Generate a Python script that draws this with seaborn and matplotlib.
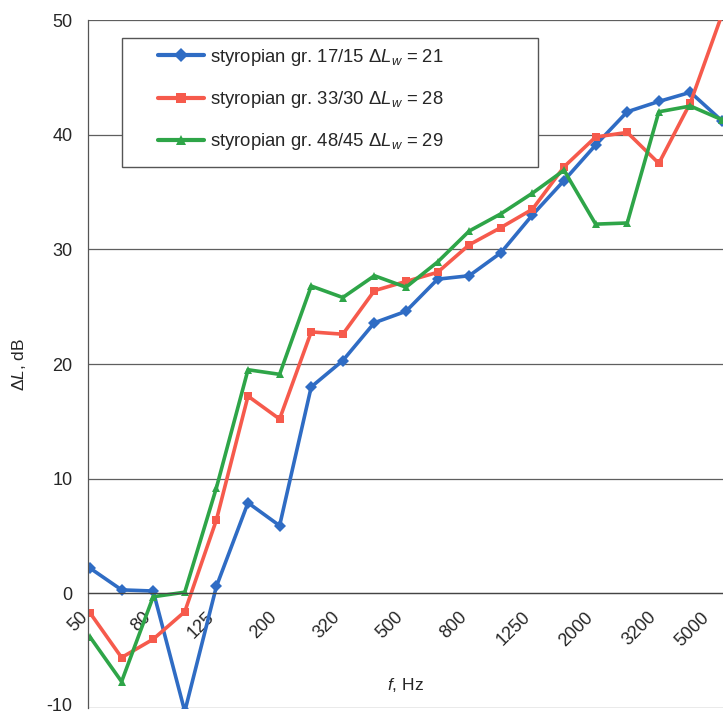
import numpy as np
import pandas as pd
import matplotlib
matplotlib.use('Agg')
import matplotlib.pyplot as plt
import seaborn as sns
from matplotlib.lines import Line2D
from matplotlib.patches import Rectangle
from matplotlib.transforms import ScaledTranslation

# third-octave bands (Hz), shown every second label
freqs = ['50', '63', '80', '100', '125', '160', '200', '250', '320', '400', '500',
         '630', '800', '1000', '1250', '1600', '2000', '2500', '3200', '4000', '5000']

gr17 = [2.2, 0.3, 0.2, -10.3, 0.6, 7.9, 5.9, 18.0, 20.3, 23.6, 24.6,
        27.4, 27.7, 29.7, 33.0, 36.0, 39.1, 42.0, 42.9, 43.7, 41.2]
gr33 = [-1.7, -5.6, -4.0, -1.6, 6.4, 17.2, 15.2, 22.8, 22.6, 26.4, 27.2,
        28.0, 30.4, 31.9, 33.5, 37.2, 39.8, 40.2, 37.5, 42.8, 50.5]
gr48 = [-3.8, -7.7, -0.3, 0.1, 9.2, 19.5, 19.1, 26.8, 25.8, 27.7, 26.7,
        28.9, 31.6, 33.1, 34.9, 36.9, 32.2, 32.3, 42.0, 42.5, 41.3]

labels = [r'styropian gr. 17/15 $\Delta L_w$ = 21',
          r'styropian gr. 33/30 $\Delta L_w$ = 28',
          r'styropian gr. 48/45 $\Delta L_w$ = 29']
colors = ['#2F6CC4', '#F65A4C', '#2EA548']
markers = ['D', 's', '^']

df = pd.DataFrame({
    'f': freqs * 3,
    'dL': gr17 + gr33 + gr48,
    'series': [labels[0]] * len(freqs) + [labels[1]] * len(freqs) + [labels[2]] * len(freqs),
})

sns.set_style('white')
plt.rcParams['font.family'] = ['Liberation Sans', 'DejaVu Sans']
plt.rcParams['mathtext.fontset'] = 'custom'
plt.rcParams['mathtext.rm'] = 'Liberation Sans'
plt.rcParams['mathtext.it'] = 'Liberation Sans:italic'
plt.rcParams['axes.unicode_minus'] = False

fig = plt.figure(figsize=(7.23, 7.16), dpi=100)
ax = fig.add_axes([0.1217, 0.0112, 0.8783, 0.9608])

sns.lineplot(
    data=df, x='f', y='dL',
    hue='series', style='series',
    palette=dict(zip(labels, colors)),
    markers=dict(zip(labels, markers)),
    dashes=False, sort=False, legend=False,
    lw=2.6, markersize=6, markeredgewidth=0,
    ax=ax
)

ax.set_ylim(-10, 50)
ax.set_xlim(-0.063, 20.03)
ax.set_yticks(range(-10, 51, 10))

ax.yaxis.grid(True, color='#5f5f5f', lw=0.9)
ax.xaxis.grid(False)
for s in ['top', 'right']:
    ax.spines[s].set_visible(False)
ax.spines['left'].set_color('#555555')
ax.spines['left'].set_linewidth(0.9)
ax.spines['bottom'].set_position(('data', 0))
ax.spines['bottom'].set_color('#444444')
ax.spines['bottom'].set_linewidth(0.9)

ax.tick_params(axis='y', length=6, width=0.9, pad=5, color='#555555', labelsize=13)
ax.tick_params(axis='x', length=6, width=0.9, pad=9.5, color='#555555', labelsize=13,
               labelrotation=45)
ax.set_xticks(range(len(freqs)))
ax.set_xticklabels([f if i % 2 == 0 else '' for i, f in enumerate(freqs)])
xlabels = ax.get_xticklabels()
for i, t in enumerate(xlabels):
    t.set_ha('right')
    t.set_va('center')
    t.set_rotation_mode('anchor')
    dx = -5 if i < len(xlabels) - 1 else -15  # last label pulled inside like in Excel
    t.set_transform(t.get_transform() + ScaledTranslation(dx / 100, 0, fig.dpi_scale_trans))

# keep the bottom "-10" inside the picture
ylab0 = ax.get_yticklabels()[0]
ylab0.set_transform(ylab0.get_transform() + ScaledTranslation(0, 3 / 100, fig.dpi_scale_trans))

ax.set_ylabel(r'$\Delta L$, dB', fontsize=12.5)
ax.yaxis.set_label_coords(-0.094, 0.5)
ax.set_xlabel(r'$f$, Hz', fontsize=12.5)
ax.xaxis.set_label_coords(0.5, 0.047)

# legend box like the spreadsheet one, wider than its content
ax.add_patch(Rectangle((0.0535, 0.787), 0.655, 0.187, transform=ax.transAxes,
                       facecolor='white', edgecolor='#555555', lw=1, zorder=3))
legend_elements = [
    Line2D([0], [0], color=c, lw=3, marker=m, markersize=7, markeredgewidth=0, label=l)
    for c, m, l in zip(colors, markers, labels)
]
leg = ax.legend(handles=legend_elements, loc='upper left', bbox_to_anchor=(0.110, 0.961),
                frameon=False, borderpad=0, borderaxespad=0, handlelength=2.5,
                handletextpad=0.35, labelspacing=1.15, fontsize=13.3)
leg.set_zorder(5)

fig.savefig('out.png', dpi=100)
